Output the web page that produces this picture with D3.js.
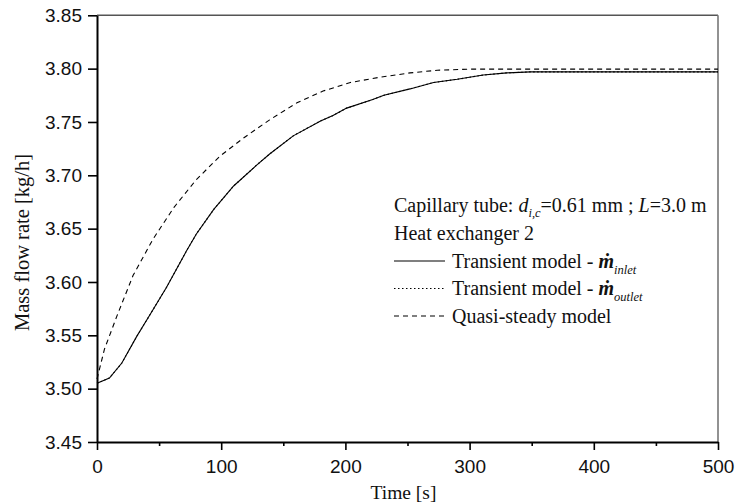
<!DOCTYPE html>
<html>
<head>
<meta charset="utf-8">
<script src="https://cdn.jsdelivr.net/npm/d3@7"></script>
<style>
  html, body { margin: 0; padding: 0; background: #fff; }
  svg { display: block; }
</style>
</head>
<body>
<svg id="chart" width="736" height="504"></svg>
<script>
// ---------------- DATA ----------------
const xTicks = [0, 100, 200, 300, 400, 500];
const xMinorTicks = [50, 150, 250, 350, 450];
const yTicks = [3.45, 3.50, 3.55, 3.60, 3.65, 3.70, 3.75, 3.80, 3.85];

// Transient model - inlet (solid)
const inletTime  = [0, 10, 20, 32, 43, 56, 72, 80, 94, 110, 129, 139, 158, 180, 190, 201, 222, 231, 252, 271, 290, 311, 330, 349, 380, 420, 460, 500];
const inletFlow  = [3.505, 3.510, 3.524, 3.549, 3.570, 3.595, 3.629, 3.645, 3.668, 3.690, 3.710, 3.720, 3.737, 3.751, 3.756, 3.763, 3.771, 3.775, 3.781, 3.787, 3.790, 3.794, 3.796, 3.797, 3.797, 3.797, 3.797, 3.797];

// Transient model - outlet (dotted, overlaps inlet)
const outletTime = [0, 10, 20, 32, 43, 56, 72, 80, 94, 110, 129, 139, 158, 180, 190, 201, 222, 231, 252, 271, 290, 311, 330, 349, 380, 420, 460, 500];
const outletFlow = [3.505, 3.510, 3.524, 3.549, 3.570, 3.595, 3.629, 3.645, 3.668, 3.690, 3.710, 3.720, 3.737, 3.751, 3.756, 3.763, 3.771, 3.775, 3.781, 3.787, 3.790, 3.794, 3.796, 3.797, 3.797, 3.797, 3.797, 3.797];

// Quasi-steady model (dashed)
const quasiTime  = [0, 6, 16, 29, 45, 62, 80, 99, 118, 139, 161, 182, 204, 228, 252, 274, 300, 320, 360, 400, 450, 500];
const quasiFlow  = [3.509, 3.537, 3.568, 3.606, 3.640, 3.670, 3.696, 3.718, 3.735, 3.752, 3.768, 3.779, 3.787, 3.792, 3.796, 3.7985, 3.7995, 3.7995, 3.7995, 3.7995, 3.7995, 3.7995];

const xLabel = "Time [s]";
const yLabel = "Mass flow rate [kg/h]";

// ---------------- LAYOUT ----------------
const svg = d3.select("#chart");
const mLeft = 97, mRight = 718, mTop = 15.3, mBottom = 442;
const serif = "'Liberation Serif', 'Times New Roman', serif";
const sans = "'Liberation Sans', Arial, sans-serif";

const x = d3.scaleLinear().domain([0, 500]).range([mLeft, mRight]);
const y = d3.scaleLinear().domain([3.45, 3.85]).range([mBottom, mTop]);

// frame top & right (gray)
svg.append("line").attr("x1", mLeft).attr("x2", mRight).attr("y1", mTop).attr("y2", mTop)
  .attr("stroke", "#555").attr("stroke-width", 1.4);
svg.append("line").attr("x1", mRight).attr("x2", mRight).attr("y1", mTop).attr("y2", mBottom)
  .attr("stroke", "#777").attr("stroke-width", 1.6);

// axes
const yAxis = svg.append("g").attr("transform", `translate(${mLeft},0)`)
  .call(d3.axisLeft(y).tickValues(yTicks).tickFormat(d3.format(".2f")).tickSize(9).tickSizeOuter(0).tickPadding(6));
const xAxis = svg.append("g").attr("transform", `translate(0,${mBottom})`)
  .call(d3.axisBottom(x).tickValues(xTicks).tickFormat(d3.format("d")).tickSize(8).tickSizeOuter(0).tickPadding(10));
svg.append("g").attr("transform", `translate(0,${mBottom})`)
  .call(d3.axisBottom(x).tickValues(xMinorTicks).tickFormat("").tickSize(4).tickSizeOuter(0))
  .call(g => g.select(".domain").remove())
  .selectAll("line").attr("stroke", "#000").attr("stroke-width", 1.6);

[yAxis, xAxis].forEach(g => {
  g.select(".domain").attr("stroke", "#000").attr("stroke-width", 2);
  g.selectAll(".tick line").attr("stroke", "#000").attr("stroke-width", 1.6);
  g.selectAll(".tick text").attr("font-family", sans).attr("font-size", 19).attr("fill", "#111");
});

// axis titles
svg.append("text").attr("x", (mLeft + mRight) / 2 - 4).attr("y", 499)
  .attr("text-anchor", "middle").attr("font-family", serif).attr("font-size", 19.5).attr("fill", "#111")
  .text(xLabel);
svg.append("text").attr("transform", `translate(28.5,242.5) rotate(-90)`)
  .attr("text-anchor", "middle").attr("font-family", serif).attr("font-size", 20.5).attr("fill", "#111")
  .text(yLabel);

// curves
const line = d3.line().x(d => x(d[0])).y(d => y(d[1]));
const zip = (a, b) => a.map((v, i) => [v, b[i]]);

svg.append("path").datum(zip(quasiTime, quasiFlow)).attr("d", line)
  .attr("fill", "none").attr("stroke", "#000").attr("stroke-width", 1.1).attr("stroke-dasharray", "5,4");
svg.append("path").datum(zip(inletTime, inletFlow)).attr("d", line)
  .attr("fill", "none").attr("stroke", "#000").attr("stroke-width", 1.1);
svg.append("path").datum(zip(outletTime, outletFlow)).attr("d", line)
  .attr("fill", "none").attr("stroke", "#000").attr("stroke-width", 1.1).attr("stroke-dasharray", "1.5,2.5");

// legend
const lx = 394, lx2 = 445, tx = 452, fs = 20;
const rowY = [205, 233, 261, 288.5, 316];
const base = d => d + 6.6;

function addText(xp, yp) {
  return svg.append("text").attr("x", xp).attr("y", base(yp))
    .attr("font-family", serif).attr("font-size", fs).attr("fill", "#111");
}

// row 0
let t0 = addText(lx, rowY[0]);
t0.append("tspan").text("Capillary tube: ");
t0.append("tspan").attr("font-style", "italic").text("d");
t0.append("tspan").attr("font-style", "italic").attr("font-size", 12.5).attr("dy", 5).text("i,c");
t0.append("tspan").attr("dy", -5).text("=0.61 mm ; ");
t0.append("tspan").attr("font-style", "italic").text("L");
t0.append("tspan").text("=3.0 m");

// row 1
addText(lx, rowY[1]).text("Heat exchanger 2");

const legendItems = [
  { dash: null, sub: "inlet" },
  { dash: "1.5,2.5", sub: "outlet" },
  { dash: "5,4", sub: null, label: "Quasi-steady model" }
];
legendItems.forEach((it, i) => {
  const yy = rowY[i + 2];
  const l = svg.append("line").attr("x1", lx).attr("x2", lx2).attr("y1", yy).attr("y2", yy)
    .attr("stroke", "#000").attr("stroke-width", 1.1);
  if (it.dash) l.attr("stroke-dasharray", it.dash);
  const t = addText(tx, yy);
  if (it.sub) {
    t.append("tspan").text("Transient model - ");
    t.append("tspan").attr("font-style", "italic").attr("font-weight", "bold").text("ṁ");
    t.append("tspan").attr("font-style", "italic").attr("font-size", 12.5).attr("dy", 6).text(it.sub);
  } else {
    t.text(it.label);
  }
});
</script>
</body>
</html>
